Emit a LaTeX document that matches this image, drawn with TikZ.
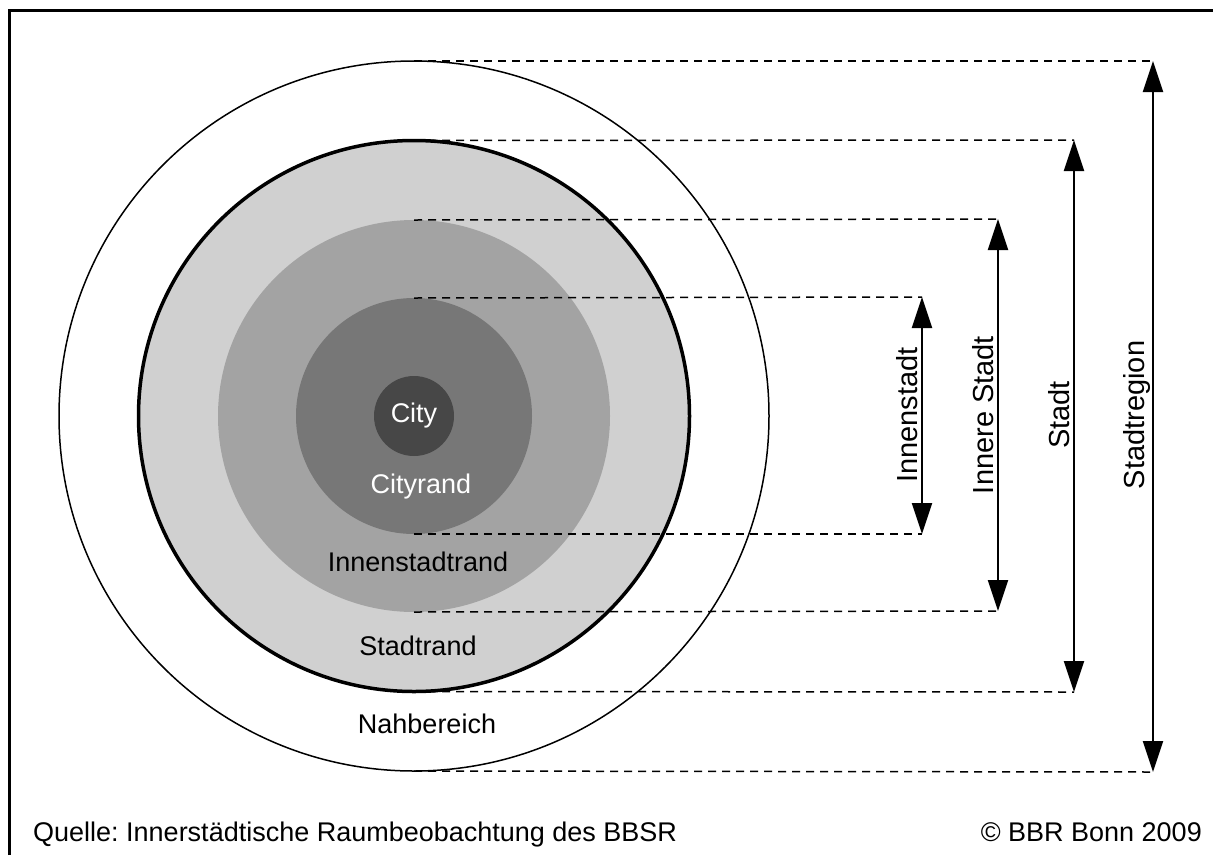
\documentclass[tikz,border=0pt]{standalone}
\usepackage{fontspec}
\setmainfont{Liberation Sans}
\usetikzlibrary{arrows.meta}
\frenchspacing
\definecolor{cCity}{HTML}{474747}
\definecolor{cInnen}{HTML}{777777}
\definecolor{cInnere}{HTML}{A3A3A3}
\definecolor{cStadt}{HTML}{D0D0D0}
\begin{document}
\begin{tikzpicture}[x=1pt,y=-1pt,
  lbl/.style={font=\fontsize{27}{31}\selectfont, inner sep=0pt},
  vlbl/.style={font=\fontsize{29}{33}\selectfont, inner sep=0pt, rotate=90},
  foot/.style={font=\fontsize{27}{31}\selectfont\frenchspacing, inner sep=0pt},
  dimline/.style={line width=2pt, {Triangle[width=20pt,length=31pt]}-{Triangle[width=20pt,length=31pt]}},
  guide/.style={line width=1.5pt, dash pattern=on 8pt off 6pt}]
\path[use as bounding box] (0,0) rectangle (1213,855);
\fill[white] (0,0) rectangle (1213,855);
\draw[line width=3pt] (9,855) -- (9,10) -- (1213,10);
% circles
\draw[line width=1.5pt, fill=white] (414,416) circle (355);
\draw[line width=3.5pt, fill=cStadt] (414,416) circle (275.5);
\fill[cInnere] (414,416) circle (196);
\fill[cInnen] (414,416) circle (118);
\fill[cCity] (414,416) circle (40);
% coordinates
\foreach \n/\r in {R/355, S/275.5, I/196, N/118}{
  \coordinate (t\n) at (414,416-\r);
  \coordinate (b\n) at (414,416+\r);
}
\coordinate (aRt) at (1153,61);  \coordinate (aRb) at (1153,772);
\coordinate (aSt) at (1074,140); \coordinate (aSb) at (1074,692);
\coordinate (aIt) at (998,219);  \coordinate (aIb) at (998,611);
\coordinate (aNt) at (922,297);  \coordinate (aNb) at (922,534);
\foreach \n in {R,S,I,N}{
  \draw[guide] (t\n) -- (a\n t);
  \draw[guide] (b\n) -- (a\n b);
  \draw[dimline] (a\n t) -- (a\n b);
}
% labels
\node[lbl, text=white] (city) at (414,416) {City};
\node[lbl, text=white] (cityrand) at (421,487) {Cityrand};
\node[lbl] (innenrand) at (418,562) {Innenstadtrand};
\node[lbl] (stadtrand) at (418,646) {Stadtrand};
\node[lbl] (nah) at (427,724) {Nahbereich};
\node[vlbl] (l1) at (907,415) {Innenstadt};
\node[vlbl] (l2) at (983,415) {Innere Stadt};
\node[vlbl] (l3) at (1059,415) {Stadt};
\node[vlbl] (l4) at (1137,415) {Stadtregion};
\node[foot, anchor=base west] (q) at (33,841) {Quelle: Innerstädtische Raumbeobachtung des BBSR};
\node[foot, anchor=base east] (copy) at (1202,841) {© BBR Bonn 2009};
\end{tikzpicture}
\end{document}
